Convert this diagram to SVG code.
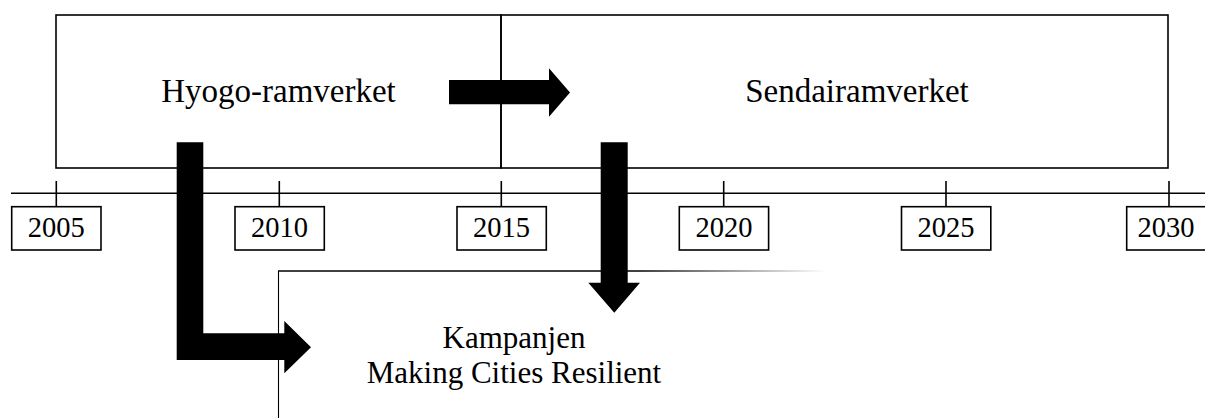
<svg xmlns="http://www.w3.org/2000/svg" width="1205" height="418" viewBox="0 0 1205 418">
  <style>
    .frame { fill: none; stroke: #000; stroke-width: 1.6; }
    .thin { fill: none; stroke: #000; stroke-width: 1.1; }
    .year { fill: #fff; stroke: #000; stroke-width: 1.6; }
    .lbl { font-family: "Liberation Serif", "Times New Roman", serif; fill: #000; text-anchor: middle; }
    .big { font-size: 33px; }
    .mid { font-size: 31px; }
    .yr { font-size: 28.5px; }
    .block { fill: #000; stroke: none; }
  </style>
  <defs>
    <linearGradient id="fadeLine" gradientUnits="userSpaceOnUse" x1="278" y1="0" x2="826" y2="0">
      <stop offset="0" stop-color="#000"/>
      <stop offset="0.66" stop-color="#000"/>
      <stop offset="1" stop-color="#fff"/>
    </linearGradient>
  </defs>
  <rect width="1205" height="418" fill="#fff"/>

  <!-- framework periods -->
  <g id="hyogo">
    <rect class="frame" x="56" y="15" width="445" height="153"/>
    <text class="lbl big" x="278.5" y="102">Hyogo-ramverket</text>
  </g>
  <g id="sendai">
    <rect class="frame" x="501" y="15" width="667" height="153"/>
    <text class="lbl big" x="857" y="102">Sendairamverket</text>
  </g>

  <!-- campaign panel, open to the right and bottom -->
  <g id="campaign">
    <line x1="278.5" y1="418" x2="278.5" y2="271" class="thin"/>
    <line x1="278" y1="271" x2="826" y2="271" fill="none" stroke="url(#fadeLine)" stroke-width="1.3"/>
    <text class="lbl mid" x="514" y="348">Kampanjen</text>
    <text class="lbl mid" x="514" y="383">Making Cities Resilient</text>
  </g>

  <!-- time axis -->
  <g id="timeline">
    <line class="frame" x1="11" y1="193.3" x2="1205" y2="193.3"/>
    <g class="frame">
      <line x1="56.3" y1="181" x2="56.3" y2="206.7"/>
      <line x1="279.3" y1="181" x2="279.3" y2="206.7"/>
      <line x1="501.3" y1="181" x2="501.3" y2="206.7"/>
      <line x1="723.7" y1="181" x2="723.7" y2="206.7"/>
      <line x1="946" y1="181" x2="946" y2="206.7"/>
      <line x1="1169" y1="181" x2="1169" y2="206.7"/>
    </g>
  </g>
  <g id="y2005">
    <rect class="year" x="11.7" y="206.7" width="89.3" height="43.3"/>
    <text class="lbl yr" x="56.3" y="237.3">2005</text>
  </g>
  <g id="y2010">
    <rect class="year" x="235" y="206.7" width="89.3" height="43.3"/>
    <text class="lbl yr" x="279.5" y="237.3">2010</text>
  </g>
  <g id="y2015">
    <rect class="year" x="457" y="206.7" width="89.3" height="43.3"/>
    <text class="lbl yr" x="501.5" y="237.3">2015</text>
  </g>
  <g id="y2020">
    <rect class="year" x="679.3" y="206.7" width="89.3" height="43.3"/>
    <text class="lbl yr" x="724" y="237.3">2020</text>
  </g>
  <g id="y2025">
    <rect class="year" x="901.5" y="206.7" width="89.3" height="43.3"/>
    <text class="lbl yr" x="946" y="237.3">2025</text>
  </g>
  <g id="y2030">
    <rect class="year" x="1126.7" y="206.7" width="89.3" height="43.3"/>
    <text class="lbl yr" x="1166" y="237.3">2030</text>
  </g>

  <!-- block arrows -->
  <g id="connectors">
    <!-- Hyogo to Sendai -->
    <path class="block" d="M449,80 H549 V68.3 L570,92.5 L549,116.7 V104.3 H449 Z"/>
    <!-- Hyogo down and into the campaign -->
    <path class="block" d="M176.7,142.3 H203.3 V333.3 H284.3 V321 L311,347.3 L284.3,373.3 V360 H176.7 Z"/>
    <!-- Sendai down into the campaign -->
    <path class="block" d="M600.7,142.3 H627.7 V282.7 H640 L614.3,312.7 L588.3,282.7 H600.7 Z"/>
  </g>
</svg>
